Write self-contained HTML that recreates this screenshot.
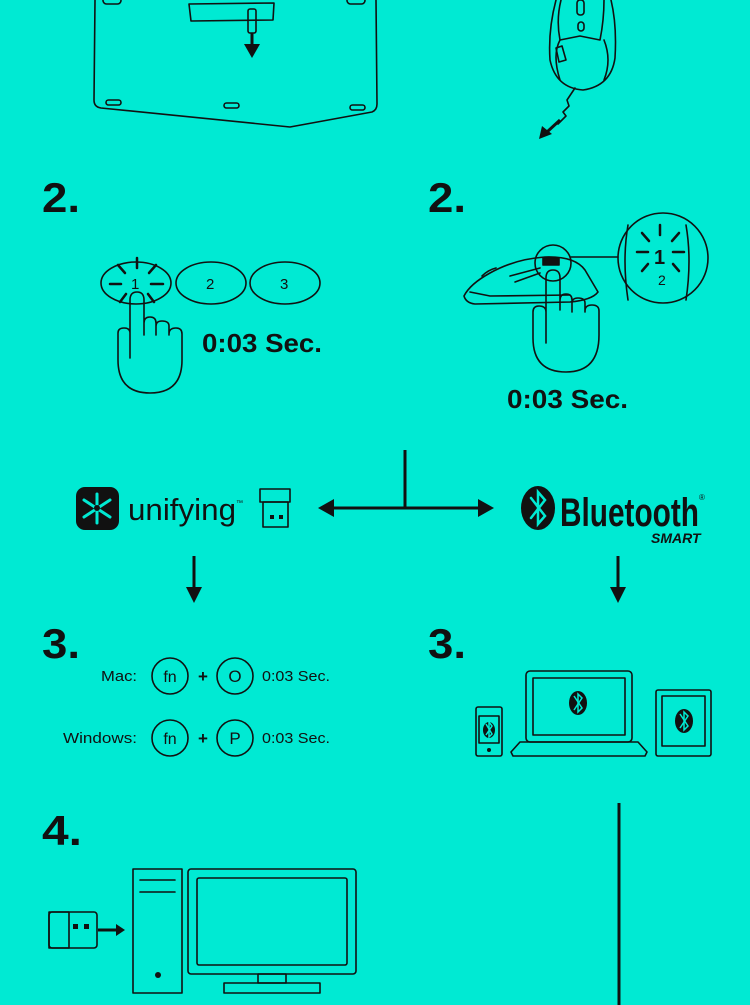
<!DOCTYPE html>
<html><head><meta charset="utf-8"><style>
html,body{margin:0;padding:0;background:#00EAD3;}
svg{display:block}
text{font-family:"Liberation Sans",sans-serif;fill:#111;}
</style></head><body>
<svg width="750" height="1005" viewBox="0 0 750 1005" xmlns="http://www.w3.org/2000/svg">
<rect width="750" height="1005" fill="#00EAD3"/>
<g fill="none" stroke="#111" stroke-width="1.6" stroke-linejoin="round" stroke-linecap="round">
<path d="M95 0 L94 100 Q94 107 101 108 L290 127 L372 112 Q377 110 377 104 L376 0"/>
<rect x="103" y="-3" width="18" height="7" rx="3.5"/>
<rect x="347" y="-3" width="18" height="7" rx="3.5"/>
<rect x="106" y="100" width="15" height="5" rx="2.5"/>
<rect x="224" y="103" width="15" height="5" rx="2.5"/>
<rect x="350" y="105" width="15" height="5" rx="2.5"/>
<path d="M189 4 L274 3 L273 20 L191 21 Z"/>
<rect x="248" y="9" width="8" height="24" rx="2"/>
<path d="M556 0 Q548 30 550 60 Q556 88 583 90 Q611 86 615 58 Q617 25 611 0"/>
<path d="M561 0 Q556 20 560 40 L580 36 L600 40 Q604 20 604 0"/>
<rect x="577" y="0" width="7" height="15" rx="3"/>
<rect x="578" y="22" width="6" height="9" rx="3"/>
<path d="M556 48 L562 46 L566 60 L559 62 Z"/>
<path d="M560 40 Q552 55 560 80"/>
<path d="M604 40 Q612 60 604 80"/>
<path d="M575 88 L567 100 L569 106 L563 112 L566 116 L558 124"/>
<ellipse cx="136" cy="283" rx="35" ry="21"/>
<ellipse cx="211" cy="283" rx="35" ry="21"/>
<ellipse cx="285" cy="283" rx="35" ry="21"/>
<g stroke-width="2.5"><path d="M137 258 L137 268"/><path d="M110 284 L121 284"/><path d="M151 284 L163 284"/><path d="M118 265 L125 273"/><path d="M156 265 L149 273"/><path d="M120 302 L126 294"/><path d="M154 302 L148 294"/></g>
<path d="M130 358 L130 300 Q130 292 137 292 Q144 292 144 300 L144 335 M144 330 L144 323 Q144 317 150 317 Q156 317 156 323 L156 335 M156 330 L156 326 Q156 321 162 321 Q169 321 169 326 L169 335 M169 335 L169 334 Q169 328 176 328 Q182 328 182 334 L182 360 Q182 393 150 393 Q118 393 118 360 L118 333 Q118 328 124 328 Q130 328 130 333"/>
<path d="M464 296 Q470 284 490 273 Q515 259 545 257 Q575 256 585 270 L598 292 Q592 300 570 302 L475 304 Q466 303 464 296 Z"/>
<path d="M470 292 L490 296 L570 295"/>
<path d="M510 276 L540 268"/><path d="M515 282 L540 273"/>
<path d="M482 276 Q488 270 496 268"/>
<circle cx="553" cy="263" r="18"/>
<path d="M571 257 L618 257"/>
<circle cx="663" cy="258" r="45"/>
<path d="M628 225 Q622 260 628 300"/><path d="M686 225 Q692 260 686 300"/>
<g stroke-width="2.5"><path d="M660 225 L660 235"/><path d="M637 252 L648 252"/><path d="M673 252 L684 252"/><path d="M642 233 L649 241"/><path d="M679 233 L672 241"/><path d="M642 271 L648 264"/><path d="M679 271 L673 264"/></g>
<rect x="543" y="258" width="16" height="7" fill="#111"/>
<path d="M546 343 L546 278 Q546 270 553 270 Q560 270 560 278 L560 310 M560 306 L560 300 Q560 294 566 294 Q572 294 572 300 L572 312 M572 308 L572 303 Q572 298 578 298 Q585 298 585 303 L585 312 M585 312 L585 311 Q585 305 592 305 Q599 305 599 311 L599 335 Q599 372 566 372 Q533 372 533 338 L533 312 Q533 306 539 306 Q546 306 546 312"/>
<rect x="260" y="489" width="30" height="13"/>
<rect x="263" y="502" width="25" height="25"/>
<rect x="476" y="707" width="26" height="49" rx="2"/>
<rect x="479" y="716" width="20" height="27"/>
<rect x="526" y="671" width="106" height="71" rx="4"/>
<rect x="533" y="678" width="92" height="57"/>
<path d="M520 742 L638 742 L647 752 L645 756 L513 756 L511 752 Z"/>
<rect x="656" y="690" width="55" height="66" rx="2"/>
<rect x="662" y="696" width="43" height="50"/>
<circle cx="170" cy="676" r="18"/><circle cx="235" cy="676" r="18"/>
<circle cx="170" cy="738" r="18"/><circle cx="235" cy="738" r="18"/>
<rect x="49" y="912" width="48" height="36" rx="3"/>
<rect x="49" y="912" width="20" height="36"/>
<rect x="133" y="869" width="49" height="124"/>
<path d="M140 880 L175 880 M140 892 L175 892"/>
<rect x="188" y="869" width="168" height="105" rx="3"/>
<rect x="197" y="878" width="150" height="87" rx="2"/>
<rect x="258" y="974" width="28" height="9"/>
<rect x="224" y="983" width="96" height="10"/>
</g>
<g fill="#111" stroke="#111">
<path d="M252 33 L252 46" stroke-width="3"/><path d="M244 44 L260 44 L252 58 Z" stroke="none"/>
<path d="M560 120 L547 132" stroke-width="3"/><path d="M539 139 L542 126 L552 134 Z" stroke="none"/>
<path d="M405 450 L405 508 M330 508 L482 508" stroke-width="3" fill="none"/>
<path d="M318 508 L334 499 L334 517 Z" stroke="none"/><path d="M494 508 L478 499 L478 517 Z" stroke="none"/>
<path d="M194 556 L194 590 M618 556 L618 590" stroke-width="3" fill="none"/>
<path d="M186 587 L202 587 L194 603 Z M610 587 L626 587 L618 603 Z" stroke="none"/>
<path d="M98 930 L118 930" stroke-width="3"/><path d="M116 924 L125 930 L116 936 Z" stroke="none"/>
<path d="M619 803 L619 1005" stroke-width="3"/>
<rect x="76" y="487" width="43" height="43" rx="9" stroke="none"/>
<ellipse cx="538" cy="508" rx="17" ry="22" stroke="none"/>
<ellipse cx="578" cy="703" rx="9" ry="12" stroke="none"/>
<ellipse cx="489" cy="730" rx="6" ry="8" stroke="none"/>
<ellipse cx="684" cy="721" rx="9" ry="12" stroke="none"/>
<circle cx="158" cy="975" r="3" stroke="none"/>
<rect x="73" y="924" width="5" height="5" stroke="none"/><rect x="84" y="924" width="5" height="5" stroke="none"/>
<rect x="270" y="515" width="4" height="4" stroke="none"/><rect x="279" y="515" width="4" height="4" stroke="none"/>
<circle cx="489" cy="750" r="2" stroke="none"/>
</g>
<g stroke="#00EAD3" stroke-width="3" fill="none" stroke-linecap="round">
<path d="M97 494 L97 523 M84 500 L110 517 M84 517 L110 500"/>
<path d="M531 498 L545 516 L538 524 L538 492 L545 500 L531 518" stroke-width="2.5"/>
</g>
<circle cx="97" cy="508" r="3" fill="#111"/>
<g stroke="#00EAD3" stroke-width="1.5" fill="none">
<path d="M574 696 L582 708 L578 712 L578 694 L582 698 L574 710"/>
<path d="M680 714 L688 726 L684 730 L684 712 L688 716 L680 728"/>
<path d="M486 724 L492 734 L489 737 L489 722 L492 726 L486 735"/>
</g>
<text x="42" y="212" font-size="42" font-weight="bold" textLength="38" lengthAdjust="spacingAndGlyphs">2.</text>
<text x="428" y="212" font-size="42" font-weight="bold" textLength="38" lengthAdjust="spacingAndGlyphs">2.</text>
<text x="131" y="289" font-size="15">1</text>
<text x="206" y="289" font-size="15">2</text>
<text x="280" y="289" font-size="15">3</text>
<text x="202" y="352" font-size="26" font-weight="bold" textLength="120" lengthAdjust="spacingAndGlyphs">0:03 Sec.</text>
<text x="507" y="408" font-size="26" font-weight="bold" textLength="121" lengthAdjust="spacingAndGlyphs">0:03 Sec.</text>
<text x="654" y="264" font-size="20" font-weight="bold">1</text>
<text x="658" y="285" font-size="14">2</text>
<text x="128" y="520" font-size="31" textLength="108" lengthAdjust="spacingAndGlyphs">unifying</text>
<text x="236" y="505" font-size="7">™</text>
<text x="560" y="526" font-size="40" font-weight="bold" textLength="139" lengthAdjust="spacingAndGlyphs">Bluetooth</text>
<text x="699" y="500" font-size="8">®</text>
<text x="651" y="543" font-size="14" font-weight="bold" font-style="italic">SMART</text>
<text x="42" y="658" font-size="42" font-weight="bold" textLength="38" lengthAdjust="spacingAndGlyphs">3.</text>
<text x="428" y="658" font-size="42" font-weight="bold" textLength="38" lengthAdjust="spacingAndGlyphs">3.</text>
<text x="42" y="845" font-size="42" font-weight="bold" textLength="40" lengthAdjust="spacingAndGlyphs">4.</text>
<text x="101" y="681" font-size="15" textLength="36" lengthAdjust="spacingAndGlyphs">Mac:</text>
<text x="63" y="743" font-size="15" textLength="74" lengthAdjust="spacingAndGlyphs">Windows:</text>
<text x="170" y="682" font-size="16" text-anchor="middle">fn</text>
<text x="170" y="744" font-size="16" text-anchor="middle">fn</text>
<text x="203" y="682" font-size="17" font-weight="bold" text-anchor="middle">+</text>
<text x="203" y="744" font-size="17" font-weight="bold" text-anchor="middle">+</text>
<text x="235" y="682" font-size="17" text-anchor="middle">O</text>
<text x="235" y="744" font-size="17" text-anchor="middle">P</text>
<text x="262" y="681" font-size="15" textLength="68" lengthAdjust="spacingAndGlyphs">0:03 Sec.</text>
<text x="262" y="743" font-size="15" textLength="68" lengthAdjust="spacingAndGlyphs">0:03 Sec.</text>
</svg>
</body></html>
